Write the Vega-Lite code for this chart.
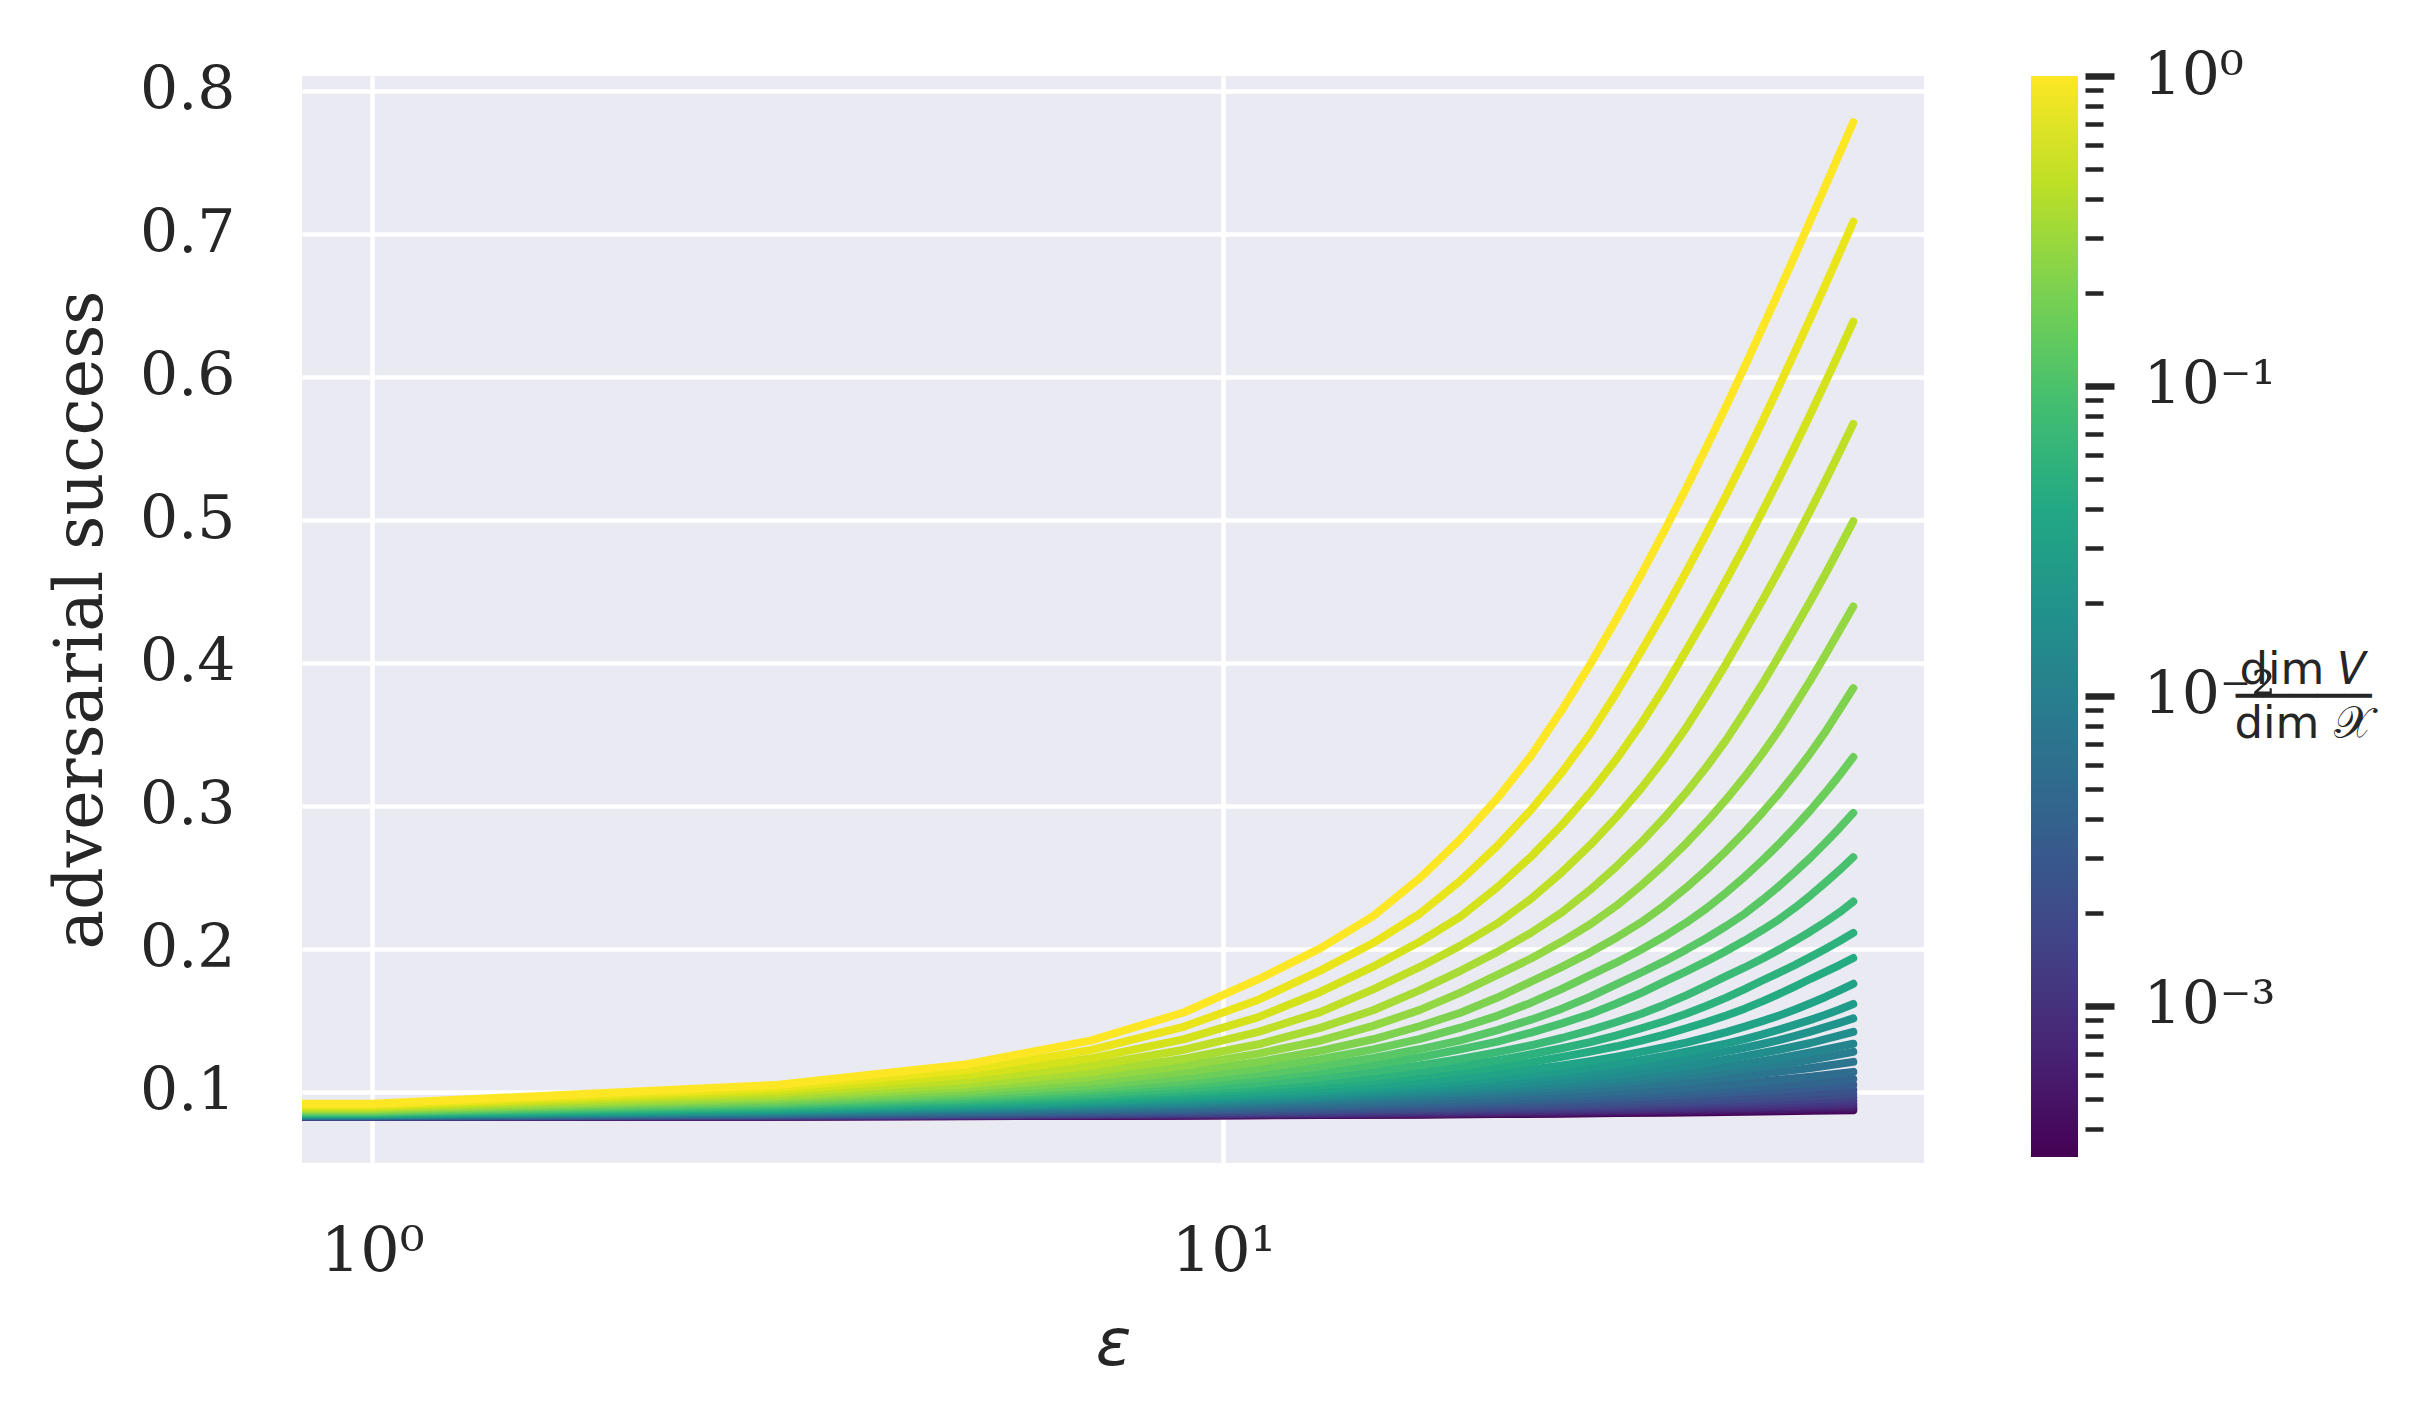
{
  "$schema": "https://vega.github.io/schema/vega-lite/v6.json",
  "background": "white",
  "autosize": {"type": "pad"},
  "padding": {"left": 48, "top": 46, "right": 5, "bottom": 5},
  "spacing": 107,
  "config": {
    "view": {"stroke": null},
    "axis": {"labelColor": "#262626", "titleColor": "#262626", "titleFontWeight": "normal"}
  },
  "datasets": {
    "lines": [
      {"r": 0.0003255, "e": [0.8,1,3,5,7,9,13,17,21,25,29,33,37,41,45,49,55], "y": [0.0825,0.0825,0.0827,0.0830,0.0832,0.0834,0.0838,0.0841,0.0845,0.0848,0.0852,0.0855,0.0858,0.0862,0.0865,0.0868,0.0872]},
      {"r": 0.000422, "e": [0.8,1,3,5,7,9,13,17,21,25,29,33,37,41,45,49,55], "y": [0.0825,0.0825,0.0828,0.0831,0.0833,0.0835,0.0840,0.0844,0.0849,0.0853,0.0857,0.0861,0.0864,0.0868,0.0872,0.0876,0.0881]},
      {"r": 0.000546, "e": [0.8,1,3,5,7,9,13,17,21,25,29,33,37,41,45,49,55], "y": [0.0825,0.0825,0.0829,0.0832,0.0835,0.0838,0.0843,0.0848,0.0853,0.0858,0.0863,0.0868,0.0872,0.0877,0.0881,0.0885,0.0892]},
      {"r": 0.000708, "e": [0.8,1,3,5,7,9,13,17,21,25,29,33,37,41,45,49,55], "y": [0.0826,0.0826,0.0830,0.0834,0.0837,0.0841,0.0847,0.0853,0.0859,0.0865,0.0871,0.0876,0.0882,0.0887,0.0892,0.0897,0.0905]},
      {"r": 0.000917, "e": [0.8,1,3,5,7,9,13,17,21,25,29,33,37,41,45,49,55], "y": [0.0826,0.0826,0.0831,0.0836,0.0840,0.0844,0.0851,0.0859,0.0866,0.0872,0.0879,0.0885,0.0892,0.0898,0.0904,0.0910,0.0918]},
      {"r": 0.001189, "e": [0.8,1,3,5,7,9,13,17,21,25,29,33,37,41,45,49,55], "y": [0.0827,0.0827,0.0833,0.0838,0.0843,0.0848,0.0857,0.0866,0.0874,0.0882,0.0890,0.0898,0.0906,0.0913,0.0919,0.0927,0.0937]},
      {"r": 0.00154, "e": [0.8,1,3,5,7,9,13,17,21,25,29,33,37,41,45,49,55], "y": [0.0828,0.0828,0.0835,0.0841,0.0847,0.0853,0.0864,0.0874,0.0885,0.0894,0.0904,0.0913,0.0922,0.0930,0.0939,0.0947,0.0959]},
      {"r": 0.001995, "e": [0.8,1,3,5,7,9,13,17,21,25,29,33,37,41,45,49,55], "y": [0.0829,0.0829,0.0837,0.0845,0.0852,0.0859,0.0872,0.0884,0.0896,0.0908,0.0919,0.0930,0.0940,0.0950,0.0960,0.0970,0.0984]},
      {"r": 0.002585, "e": [0.8,1,3,5,7,9,13,17,21,25,29,33,37,41,45,49,55], "y": [0.0830,0.0830,0.0840,0.0849,0.0857,0.0866,0.0881,0.0896,0.0911,0.0924,0.0936,0.0949,0.0961,0.0973,0.0985,0.0996,0.1013]},
      {"r": 0.00335, "e": [0.8,1,3,5,7,9,13,17,21,25,29,33,37,41,45,49,55], "y": [0.0831,0.0831,0.0843,0.0854,0.0864,0.0874,0.0893,0.0911,0.0927,0.0943,0.0958,0.0973,0.0988,0.1002,0.1015,0.1029,0.1050]},
      {"r": 0.00434, "e": [0.8,1,3,5,7,9,13,17,21,25,29,33,37,41,45,49,55], "y": [0.0832,0.0832,0.0846,0.0859,0.0871,0.0882,0.0904,0.0924,0.0943,0.0961,0.0978,0.0995,0.1011,0.1028,0.1044,0.1062,0.1090]},
      {"r": 0.005623, "e": [0.8,1,3,5,7,9,13,17,21,25,29,33,37,41,45,49,55], "y": [0.0834,0.0834,0.0850,0.0865,0.0879,0.0892,0.0917,0.0940,0.0961,0.0982,0.1002,0.1022,0.1041,0.1062,0.1085,0.1107,0.1140]},
      {"r": 0.007286, "e": [0.8,1,3,5,7,9,13,17,21,25,29,33,37,41,45,49,55], "y": [0.0836,0.0836,0.0855,0.0873,0.0889,0.0905,0.0933,0.0960,0.0986,0.1010,0.1034,0.1059,0.1086,0.1113,0.1140,0.1167,0.1210]},
      {"r": 0.00944, "e": [0.8,1,3,5,7,9,13,17,21,25,29,33,37,41,45,49,55], "y": [0.0837,0.0837,0.0860,0.0880,0.0898,0.0916,0.0948,0.0978,0.1007,0.1034,0.1064,0.1096,0.1125,0.1158,0.1190,0.1225,0.1280]},
      {"r": 0.01223, "e": [0.8,1,3,5,7,9,13,17,21,25,29,33,37,41,45,49,55], "y": [0.0839,0.0839,0.0863,0.0885,0.0906,0.0921,0.0959,0.0992,0.1023,0.1054,0.1090,0.1125,0.1160,0.1195,0.1235,0.1276,0.1337]},
      {"r": 0.01585, "e": [0.8,1,3,5,7,9,13,17,21,25,29,33,37,41,45,49,55], "y": [0.0840,0.0840,0.0868,0.0892,0.0915,0.0935,0.0973,0.1009,0.1044,0.1083,0.1123,0.1163,0.1204,0.1249,0.1295,0.1342,0.1420]},
      {"r": 0.02054, "e": [0.8,1,3,5,7,9,11,13,15,17,19,21,23,25,27,29,31,33,35,37,39,41,43,45,47,49,51,53,55], "y": [0.0842,0.0842,0.0872,0.0899,0.0924,0.0946,0.0968,0.0989,0.1008,0.1028,0.1048,0.1070,0.1093,0.1115,0.1137,0.1160,0.1182,0.1206,0.1231,0.1257,0.1283,0.1309,0.1335,0.1362,0.1392,0.1422,0.1453,0.1483,0.1514]},
      {"r": 0.02661, "e": [0.8,1,3,5,7,9,11,13,15,17,19,21,23,25,27,29,31,33,35,37,39,41,43,45,47,49,51,53,55], "y": [0.0844,0.0844,0.0877,0.0906,0.0932,0.0957,0.0980,0.1003,0.1025,0.1046,0.1071,0.1096,0.1121,0.1145,0.1170,0.1195,0.1223,0.1252,0.1281,0.1309,0.1338,0.1369,0.1402,0.1436,0.1470,0.1504,0.1539,0.1576,0.1615]},
      {"r": 0.03447, "e": [0.8,1,3,5,7,9,11,13,15,17,19,21,23,25,27,29,31,33,35,37,39,41,43,45,47,49,51,53,55], "y": [0.0846,0.0846,0.0883,0.0915,0.0943,0.0970,0.0996,0.1021,0.1045,0.1073,0.1101,0.1129,0.1157,0.1185,0.1215,0.1247,0.1280,0.1312,0.1345,0.1381,0.1418,0.1457,0.1495,0.1534,0.1576,0.1620,0.1664,0.1710,0.1756]},
      {"r": 0.04467, "e": [0.8,1,3,5,7,9,11,13,15,17,19,21,23,25,27,29,31,33,35,37,39,41,43,45,47,49,51,53,55], "y": [0.0849,0.0849,0.0890,0.0926,0.0958,0.0989,0.1017,0.1045,0.1077,0.1109,0.1142,0.1174,0.1208,0.1245,0.1282,0.1319,0.1358,0.1401,0.1445,0.1489,0.1534,0.1582,0.1633,0.1685,0.1738,0.1791,0.1839,0.1887,0.1936]},
      {"r": 0.05788, "e": [0.8,1,3,5,7,9,11,13,15,17,19,21,23,25,27,29,31,33,35,37,39,41,43,45,47,49,51,53,55], "y": [0.0852,0.0852,0.0898,0.0936,0.0972,0.1005,0.1037,0.1072,0.1108,0.1145,0.1181,0.1221,0.1263,0.1305,0.1348,0.1395,0.1445,0.1494,0.1546,0.1602,0.1659,0.1719,0.1779,0.1834,0.1888,0.1944,0.1999,0.2055,0.2112]},
      {"r": 0.07499, "e": [0.8,1,3,5,7,9,11,13,15,17,19,21,23,25,27,29,31,33,35,37,39,41,43,45,47,49,51,53,55], "y": [0.0856,0.0856,0.0906,0.0948,0.0988,0.1024,0.1061,0.1103,0.1144,0.1185,0.1230,0.1278,0.1326,0.1377,0.1432,0.1489,0.1546,0.1610,0.1675,0.1743,0.1809,0.1870,0.1932,0.1995,0.2058,0.2122,0.2188,0.2256,0.2331]},
      {"r": 0.09716, "e": [0.8,1,3,5,7,9,11,13,15,17,19,21,23,25,27,29,31,33,35,37,39,41,43,45,47,49,51,53,55], "y": [0.0860,0.0860,0.0916,0.0963,0.1006,0.1048,0.1095,0.1142,0.1189,0.1242,0.1297,0.1352,0.1415,0.1479,0.1545,0.1618,0.1693,0.1771,0.1843,0.1914,0.1986,0.2058,0.2132,0.2207,0.2289,0.2375,0.2463,0.2551,0.2641]},
      {"r": 0.1259, "e": [0.8,1,3,5,7,9,11,13,15,17,19,21,23,25,27,29,31,33,35,37,39,41,43,45,47,49,51,53,55], "y": [0.0863,0.0863,0.0925,0.0976,0.1024,0.1073,0.1126,0.1179,0.1237,0.1298,0.1361,0.1432,0.1505,0.1582,0.1666,0.1753,0.1835,0.1914,0.1995,0.2076,0.2160,0.2246,0.2342,0.2439,0.2539,0.2639,0.2742,0.2846,0.2951]},
      {"r": 0.1631, "e": [0.8,1,3,5,7,9,11,13,15,17,19,21,23,25,27,29,31,33,35,37,39,41,43,45,47,49,51,53,55], "y": [0.0868,0.0868,0.0935,0.0992,0.1045,0.1104,0.1164,0.1228,0.1297,0.1369,0.1449,0.1532,0.1624,0.1720,0.1816,0.1905,0.1996,0.2088,0.2183,0.2285,0.2394,0.2505,0.2619,0.2734,0.2852,0.2971,0.3092,0.3215,0.3341]},
      {"r": 0.2113, "e": [0.8,1,3,5,7,9,11,13,15,17,19,21,23,25,27,29,31,33,35,37,39,41,43,45,47,49,51,53,55], "y": [0.0873,0.0873,0.0947,0.1010,0.1072,0.1140,0.1209,0.1287,0.1368,0.1459,0.1554,0.1660,0.1771,0.1874,0.1976,0.2080,0.2187,0.2304,0.2428,0.2555,0.2685,0.2817,0.2952,0.3088,0.3228,0.3371,0.3517,0.3673,0.3823]},
      {"r": 0.2738, "e": [0.8,1,3,5,7,9,11,13,15,17,19,21,23,25,27,29,31,33,35,37,39,41,43,45,47,49,51,53,55], "y": [0.0878,0.0878,0.0961,0.1030,0.1105,0.1182,0.1268,0.1358,0.1462,0.1572,0.1694,0.1818,0.1933,0.2051,0.2172,0.2303,0.2445,0.2590,0.2738,0.2890,0.3045,0.3203,0.3365,0.3532,0.3708,0.3880,0.4055,0.4227,0.4394]},
      {"r": 0.3548, "e": [0.8,1,3,5,7,9,11,13,15,17,19,21,23,25,27,29,31,33,35,37,39,41,43,45,47,49,51,53,55], "y": [0.0885,0.0885,0.0975,0.1053,0.1140,0.1232,0.1333,0.1448,0.1571,0.1710,0.1847,0.1979,0.2113,0.2255,0.2414,0.2578,0.2746,0.2918,0.3094,0.3275,0.3461,0.3658,0.3852,0.4050,0.4245,0.4434,0.4621,0.4807,0.4991]},
      {"r": 0.4597, "e": [0.8,1,3,5,7,9,11,13,15,17,19,21,23,25,27,29,31,33,35,37,39,41,43,45,47,49,51,53,55], "y": [0.0892,0.0892,0.0992,0.1084,0.1183,0.1295,0.1420,0.1558,0.1717,0.1872,0.2023,0.2178,0.2351,0.2536,0.2727,0.2923,0.3124,0.3331,0.3547,0.3772,0.3995,0.4220,0.4435,0.4648,0.4860,0.5068,0.5272,0.5474,0.5671]},
      {"r": 0.5957, "e": [0.8,1,3,5,7,9,11,13,15,17,19,21,23,25,27,29,31,33,35,37,39,41,43,45,47,49,51,53,55], "y": [0.0900,0.0900,0.1010,0.1118,0.1235,0.1369,0.1523,0.1699,0.1876,0.2048,0.2226,0.2432,0.2645,0.2866,0.3094,0.3329,0.3576,0.3830,0.4087,0.4334,0.4579,0.4820,0.5057,0.5289,0.5518,0.5741,0.5961,0.6175,0.6385]},
      {"r": 0.7718, "e": [0.8,1,3,5,7,9,11,13,15,17,19,21,23,25,27,29,31,33,35,37,39,41,43,45,47,49,51,53,55], "y": [0.0908,0.0908,0.1029,0.1154,0.1294,0.1457,0.1645,0.1848,0.2041,0.2244,0.2477,0.2721,0.2973,0.3234,0.3505,0.3794,0.4083,0.4363,0.4638,0.4909,0.5173,0.5433,0.5687,0.5936,0.6178,0.6413,0.6643,0.6867,0.7084]},
      {"r": 1, "e": [0.8,1,3,5,7,9,11,13,15,17,19,21,23,25,27,29,31,33,35,37,39,41,43,45,47,49,51,53,55], "y": [0.0917,0.0917,0.1050,0.1194,0.1360,0.1557,0.1788,0.2004,0.2229,0.2492,0.2767,0.3053,0.3351,0.3670,0.3991,0.4310,0.4620,0.4925,0.5222,0.5513,0.5796,0.6072,0.6340,0.6600,0.6853,0.7097,0.7334,0.7562,0.7780]}
    ]
  },
  "hconcat": [
    {
      "width": 1622,
      "height": 1087,
      "view": {"fill": "#EAEAF2", "stroke": null},
      "data": {"name": "lines"},
      "transform": [{"flatten": ["e", "y"]}],
      "mark": {"type": "line", "strokeWidth": 8, "strokeCap": "round", "strokeJoin": "round", "clip": true},
      "encoding": {
        "x": {
          "field": "e", "type": "quantitative",
          "scale": {"type": "log", "domain": [0.827, 66.6], "nice": false},
          "axis": {
            "values": [1, 10],
            "labelExpr": "datum.value == 1 ? '10⁰' : '10¹'",
            "labelFont": "DejaVu Serif", "labelFontSize": 62, "labelPadding": 58,
            "ticks": false, "tickSize": 0, "domain": false,
            "grid": true, "gridColor": "white", "gridWidth": 4.5,
            "title": "ε", "titleFont": "DejaVu Sans", "titleFontStyle": "italic", "titleFontSize": 66, "titlePadding": 30
          }
        },
        "y": {
          "field": "y", "type": "quantitative",
          "scale": {"domain": [0.0503, 0.8103], "nice": false, "zero": false},
          "axis": {
            "values": [0.1, 0.2, 0.3, 0.4, 0.5, 0.6, 0.7, 0.8],
            "format": ".1f",
            "labelFont": "DejaVu Serif", "labelFontSize": 60, "labelPadding": 67,
            "ticks": false, "tickSize": 0, "domain": false,
            "grid": true, "gridColor": "white", "gridWidth": 4.5,
            "title": "adversarial success", "titleFont": "DejaVu Serif", "titleFontSize": 66.5, "titlePadding": 24
          }
        },
        "color": {
          "field": "r", "type": "quantitative",
          "scale": {"type": "log", "domain": [0.0003255, 1], "scheme": "viridis"},
          "legend": null
        },
        "detail": {"field": "r", "type": "nominal"}
      }
    },
    {
      "width": 47,
      "height": 1081,
      "view": {"stroke": null, "fill": null},
      "data": {"values": [{"lo": 0.0003255, "hi": 1}]},
      "mark": {
        "type": "rect",
        "fill": {
          "gradient": "linear", "x1": 0, "y1": 1, "x2": 0, "y2": 0,
          "stops": [
            {"offset": 0.0, "color": "#440154"},
            {"offset": 0.1, "color": "#482475"},
            {"offset": 0.2, "color": "#414487"},
            {"offset": 0.3, "color": "#355f8d"},
            {"offset": 0.4, "color": "#2a788e"},
            {"offset": 0.5, "color": "#21918c"},
            {"offset": 0.6, "color": "#22a884"},
            {"offset": 0.7, "color": "#44bf70"},
            {"offset": 0.8, "color": "#7ad151"},
            {"offset": 0.9, "color": "#bddf26"},
            {"offset": 1.0, "color": "#fde725"}
          ]
        }
      },
      "encoding": {
        "x": {"datum": 0, "type": "quantitative", "scale": {"domain": [0, 1], "nice": false, "zero": false}, "axis": null},
        "x2": {"datum": 1},
        "y": {
          "field": "lo", "type": "quantitative",
          "scale": {"type": "log", "domain": [0.0003255, 1], "nice": false},
          "axis": {
            "orient": "right",
            "values": [0.0004,0.0005,0.0006,0.0007,0.0008,0.0009,0.001,0.002,0.003,0.004,0.005,0.006,0.007,0.008,0.009,0.01,0.02,0.03,0.04,0.05,0.06,0.07,0.08,0.09,0.1,0.2,0.3,0.4,0.5,0.6,0.7,0.8,0.9,1],
            "labelExpr": "datum.value == 1 ? '10⁰' : datum.value == 0.1 ? '10⁻¹' : datum.value == 0.01 ? '10⁻²' : datum.value == 0.001 ? '10⁻³' : ''",
            "offset": 7,
            "domain": false, "grid": false,
            "ticks": true,
            "tickColor": "#262626",
            "tickSize": {"condition": {"test": "datum.value == 1 || datum.value == 0.1 || datum.value == 0.01 || datum.value == 0.001", "value": 29}, "value": 18},
            "tickWidth": {"condition": {"test": "datum.value == 1 || datum.value == 0.1 || datum.value == 0.01 || datum.value == 0.001", "value": 6.5}, "value": 4.5},
            "labelFont": "DejaVu Serif", "labelFontSize": 60, "labelPadding": 29,
            "labelOverlap": false, "labelFlush": false, "labelBound": false,
            "title": ["dim 𝑉", "─────", "dim 𝒳"],
            "titleAngle": 0, "titleX": 218, "titleY": 593,
            "titleAlign": "center", "titleBaseline": "middle",
            "titleFont": "DejaVu Sans", "titleFontSize": 45, "titleLineHeight": 27
          }
        },
        "y2": {"field": "hi"}
      }
    }
  ]
}
